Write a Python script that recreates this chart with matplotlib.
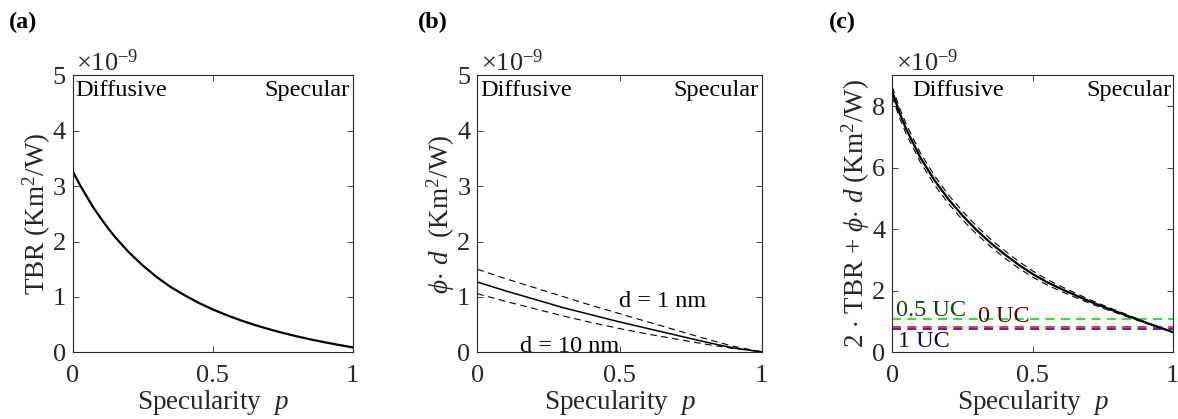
import matplotlib
matplotlib.use("Agg")
import matplotlib.pyplot as plt

plt.rcParams['font.family'] = ['Liberation Serif', 'DejaVu Serif']
plt.rcParams['mathtext.fontset'] = 'custom'
plt.rcParams['mathtext.rm'] = 'Liberation Serif'
plt.rcParams['mathtext.it'] = 'Liberation Serif:italic'
plt.rcParams['mathtext.bf'] = 'Liberation Serif:bold'

# ---------------- data (values in units of 1e-9 K m^2 / W) ----------------
p_a = [0.0, 0.025, 0.05, 0.075, 0.1, 0.125, 0.15, 0.2, 0.25, 0.3, 0.35, 0.4,
       0.45, 0.5, 0.55, 0.6, 0.65, 0.7, 0.75, 0.8, 0.85, 0.9, 0.95, 1.0]
tbr = [3.27, 3.03, 2.815, 2.605, 2.425, 2.25, 2.09, 1.81, 1.57, 1.36, 1.18,
       1.03, 0.894, 0.776, 0.672, 0.579, 0.495, 0.420, 0.352, 0.290, 0.234,
       0.182, 0.135, 0.091]

p_b = [0.0, 0.1, 0.2, 0.3, 0.4, 0.5, 0.6, 0.7, 0.8, 0.9, 1.0]
phid_mid = [1.27, 1.11, 0.96, 0.81, 0.68, 0.55, 0.43, 0.31, 0.19, 0.08, 0.01]
phid_1nm = [1.50, 1.33, 1.17, 1.01, 0.85, 0.70, 0.55, 0.40, 0.25, 0.11, 0.01]
phid_10nm = [1.06, 0.92, 0.79, 0.66, 0.54, 0.43, 0.33, 0.24, 0.15, 0.07, 0.01]

p_c = [0.0, 0.025, 0.05, 0.1, 0.15, 0.2, 0.25, 0.3, 0.35, 0.4, 0.45, 0.5,
       0.55, 0.6, 0.65, 0.7, 0.75, 0.8, 0.85, 0.9, 0.95, 1.0]
tot_mid = [8.47, 7.80, 7.25, 6.33, 5.60, 4.98, 4.45, 3.98, 3.56, 3.19, 2.85,
           2.55, 2.29, 2.07, 1.87, 1.67, 1.49, 1.32, 1.15, 0.98, 0.82, 0.66]
tot_hi = [8.63, 7.96, 7.41, 6.48, 5.75, 5.12, 4.59, 4.11, 3.68, 3.31, 2.96,
          2.65, 2.38, 2.15, 1.94, 1.73, 1.54, 1.36, 1.18, 1.00, 0.83, 0.66]
tot_lo = [8.31, 7.64, 7.09, 6.18, 5.45, 4.84, 4.31, 3.85, 3.44, 3.07, 2.74,
          2.45, 2.20, 1.99, 1.80, 1.61, 1.44, 1.28, 1.12, 0.96, 0.81, 0.66]

uc_labels = ['0.5 UC', '0 UC', '1 UC']
uc_values = [1.08, 0.82, 0.77]
uc_line_colors = ['#22dd22', '#ff2020', '#1a1aff']
uc_text_colors = ['#0a4a0a', '#4a0a0a', '#0a0a4a']

# ---------------- figure ----------------
W, H = 1178, 419
fig = plt.figure(figsize=(W / 100, H / 100), dpi=100)

axc = '#262626'
bottom, height = 0.159, 0.661
lefts = [72.7 / W, 477.3 / W, 892.3 / W]
widths = [280 / W, 284.4 / W, 280.4 / W]
axes = [fig.add_axes([l, bottom, w, height]) for l, w in zip(lefts, widths)]

tick_fs = 19
lab_fs = 19.5
txt_fs = 17.5

for ax in axes:
    ax.set_xlim(0, 1)
    ax.set_xticks([0, 0.5, 1])
    ax.set_xticklabels(['0', '0.5', '1'])
    ax.tick_params(direction='in', top=True, right=True, length=4, width=0.6,
                   colors=axc, labelsize=tick_fs)
    ax.tick_params(axis='x', pad=9)
    ax.tick_params(axis='y', pad=5)
    for s in ax.spines.values():
        s.set_color(axc)
        s.set_linewidth(0.8)
    ax.set_xlabel(r'Specularity  $p$', fontsize=lab_fs, color=axc, labelpad=1)
    ax.text(0.012, 1.0, r'$\times10^{\mathrm{-9}}$', transform=ax.transAxes,
            fontsize=tick_fs, color=axc, ha='left', va='bottom')

# (a)
ax = axes[0]
ax.plot(p_a, tbr, color='black', lw=1.6)
ax.set_ylim(0, 5)
ax.set_yticks([0, 1, 2, 3, 4, 5])
ax.set_ylabel(r'TBR (Km$^2$/W)', fontsize=lab_fs, color=axc, labelpad=0)
ax.text(0.01, 0.985, 'Diffusive', transform=ax.transAxes, fontsize=txt_fs,
        ha='left', va='top')
ax.text(0.99, 0.985, 'Specular', transform=ax.transAxes, fontsize=txt_fs,
        ha='right', va='top')

# (b)
ax = axes[1]
ax.plot(p_b, phid_mid, color='black', lw=1.1)
ax.plot(p_b, phid_1nm, color='black', lw=0.8, ls=(0, (6, 4)))
ax.plot(p_b, phid_10nm, color='black', lw=0.8, ls=(0, (6, 4)))
ax.set_ylim(0, 5)
ax.set_yticks([0, 1, 2, 3, 4, 5])
ax.set_ylabel(r'$\phi\!\cdot\, d$  (Km$^2$/W)', fontsize=lab_fs, color=axc, labelpad=0)
ax.text(0.01, 0.985, 'Diffusive', transform=ax.transAxes, fontsize=txt_fs,
        ha='left', va='top')
ax.text(0.99, 0.985, 'Specular', transform=ax.transAxes, fontsize=txt_fs,
        ha='right', va='top')
ax.text(0.497, 0.91, 'd = 1 nm', fontsize=txt_fs, ha='left', va='center')
ax.text(0.15, 0.10, 'd = 10 nm', fontsize=txt_fs, ha='left', va='center')

# (c)
ax = axes[2]
for val, lc in zip(uc_values, uc_line_colors):
    ax.axhline(val, color=lc, lw=1.3, ls=(0, (5, 3.5)), zorder=1)
ax.plot(p_c, tot_hi, color='black', lw=0.8, ls=(0, (6, 4)), zorder=2)
ax.plot(p_c, tot_lo, color='black', lw=0.8, ls=(0, (6, 4)), zorder=2)
ax.plot(p_c, tot_mid, color='black', lw=1.6, zorder=3)
ax.set_ylim(0, 9)
ax.set_yticks([0, 2, 4, 6, 8])
ax.set_ylabel(r'2 $\cdot$ TBR + $\phi\!\cdot\, d$ (Km$^2$/W)', fontsize=lab_fs,
              color=axc, labelpad=0)
ax.text(0.07, 0.985, 'Diffusive', transform=ax.transAxes, fontsize=txt_fs,
        ha='left', va='top')
ax.text(0.995, 0.985, 'Specular', transform=ax.transAxes, fontsize=txt_fs,
        ha='right', va='top')
ax.text(0.012, 1.36, uc_labels[0], color=uc_text_colors[0], fontsize=txt_fs,
        ha='left', va='center')
ax.text(0.305, 1.15, uc_labels[1], color=uc_text_colors[1], fontsize=txt_fs,
        ha='left', va='center')
ax.text(0.02, 0.36, uc_labels[2], color=uc_text_colors[2], fontsize=txt_fs,
        ha='left', va='center')

# panel labels
fig.text(9 / W, 1 - 22 / H, '(a)', fontsize=txt_fs, fontweight='bold',
         ha='left', va='center')
fig.text(418 / W, 1 - 22 / H, '(b)', fontsize=txt_fs, fontweight='bold',
         ha='left', va='center')
fig.text(829 / W, 1 - 22 / H, '(c)', fontsize=txt_fs, fontweight='bold',
         ha='left', va='center')

fig.savefig('out.png', dpi=100)
